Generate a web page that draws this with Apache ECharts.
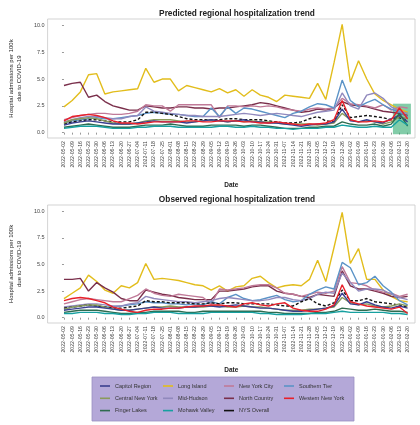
<!DOCTYPE html>
<html><head><meta charset="utf-8">
<script src="https://cdn.jsdelivr.net/npm/echarts@6/dist/echarts.min.js"></script>
<style>html,body{margin:0;padding:0;background:#fff}#c{width:420px;height:425px}</style>
</head><body><div id="c"></div>
<script>
const dates = ['2022-05-02','2022-05-09','2022-05-16','2022-05-23','2022-05-30','2022-06-06','2022-06-13','2022-06-20','2022-06-27','2022-07-04','2022-07-11','2022-07-18','2022-07-25','2022-08-01','2022-08-08','2022-08-15','2022-08-22','2022-08-29','2022-09-05','2022-09-12','2022-09-19','2022-09-26','2022-10-03','2022-10-10','2022-10-17','2022-10-24','2022-10-31','2022-11-07','2022-11-14','2022-11-21','2022-11-28','2022-12-05','2022-12-12','2022-12-19','2022-12-26','2023-01-02','2023-01-09','2023-01-16','2023-01-23','2023-01-30','2023-02-06','2023-02-13','2023-02-20'];
const yTicks = [0, 2.5, 5, 7.5, 10];
const regions = ['Capitol Region','Central New York','Finger Lakes','Long Island','Mid-Hudson','Mohawk Valley','New York City','North Country','NYS Overall','Southern Tier','Western New York'];

// Predicted series
const predCapitol  = [0.7,0.9,1.0,1.1,1.0,0.9,0.8,0.8,0.8,0.9,1.0,1.1,1.0,1.0,1.0,0.9,1.0,1.1,1.2,1.1,1.0,1.1,1.2,1.0,1.0,0.9,0.9,0.8,0.7,0.6,0.7,0.8,0.8,1.0,2.2,1.1,1.0,1.2,1.0,0.9,1.3,1.6,1.0];
const predCentral  = [0.9,1.2,1.3,1.4,1.3,1.1,0.9,0.8,0.8,0.9,1.1,1.2,1.2,1.2,1.1,1.0,1.0,1.1,1.2,1.1,1.0,1.1,1.0,1.1,1.0,1.0,0.9,0.8,0.8,0.8,0.8,0.7,0.8,0.9,1.8,1.2,1.0,1.1,1.0,0.8,1.0,1.5,1.3];
const predFinger   = [0.5,0.6,0.7,0.8,0.7,0.6,0.5,0.5,0.5,0.6,0.7,0.7,0.7,0.8,0.7,0.6,0.6,0.6,0.7,0.7,0.7,0.7,0.6,0.7,0.7,0.6,0.5,0.4,0.4,0.4,0.5,0.5,0.6,0.6,1.0,0.8,0.7,0.7,0.8,0.6,0.8,1.8,0.6];
const predLongIsl  = [2.4,3.0,3.8,5.4,5.5,3.6,3.8,3.9,4.0,4.1,6.0,4.7,5.0,5.0,3.9,4.4,4.2,4.0,3.8,4.1,3.7,4.0,3.4,4.0,3.5,3.3,2.9,3.5,3.4,3.3,3.2,4.6,3.1,6.5,10.1,4.7,6.7,5.0,3.6,3.0,2.6,2.2,1.9];
const predMidHud   = [1.0,1.2,1.4,1.5,1.5,1.4,1.3,1.3,1.5,1.6,2.4,2.0,1.9,1.8,1.7,1.6,1.6,1.5,1.5,1.5,1.6,1.7,1.8,1.7,1.6,1.7,1.8,1.7,1.6,1.5,1.7,1.9,2.0,2.1,3.7,2.5,2.2,3.5,3.7,3.2,2.4,2.0,1.8];
const predMohawk   = [0.4,0.5,0.6,0.6,0.6,0.5,0.4,0.4,0.4,0.5,0.5,0.6,0.6,0.6,0.5,0.5,0.5,0.5,0.5,0.6,0.6,0.5,0.5,0.6,0.5,0.5,0.4,0.4,0.3,0.4,0.4,0.4,0.5,0.5,0.7,0.6,0.5,0.5,0.6,0.5,0.5,1.2,0.7];
const predNYC      = [1.2,1.4,1.6,1.7,1.8,1.8,1.7,1.7,1.8,2.0,2.6,2.5,2.5,2.0,2.6,2.6,2.6,2.6,2.6,1.4,2.5,2.5,2.4,2.5,2.4,2.5,2.4,2.2,2.1,2.0,2.2,2.3,2.2,2.3,3.2,2.7,2.6,2.5,2.3,2.6,2.1,2.4,2.3];
const predNorth    = [4.4,4.6,4.7,3.3,3.5,2.9,2.5,2.3,2.1,2.1,2.5,2.4,2.3,2.3,2.4,2.4,2.3,2.3,2.2,2.3,2.3,2.4,2.5,2.6,2.8,2.7,2.5,2.3,2.1,1.9,2.0,2.2,2.1,2.3,2.9,2.6,2.5,2.4,2.2,2.0,1.9,1.8,1.6];
const predNYS      = [0.8,1.0,1.1,1.2,1.2,1.1,1.0,1.0,1.0,1.2,1.9,1.9,1.8,1.7,1.5,1.3,1.2,1.2,1.2,1.2,1.3,1.3,1.2,1.2,1.2,1.1,1.0,0.9,0.9,1.0,1.3,1.5,1.1,1.0,2.6,1.4,1.5,1.6,1.5,1.4,1.2,1.4,1.1];
const predSouthern = [0.9,1.1,1.2,1.3,1.4,1.3,1.3,1.4,1.5,1.6,1.8,1.9,1.8,1.7,1.7,1.6,1.5,1.5,2.3,1.5,2.4,1.8,2.3,2.2,2.0,1.8,1.6,1.4,1.8,2.0,2.4,2.7,2.6,2.3,4.9,3.0,2.4,2.8,3.1,2.6,2.2,1.9,1.5];
const predWestern  = [1.1,1.5,1.6,1.7,1.6,1.4,1.1,0.9,0.9,0.8,0.9,1.0,1.0,1.0,1.0,1.1,1.1,1.0,1.0,1.1,1.1,1.1,1.0,1.0,0.9,0.9,1.0,0.9,0.8,0.7,0.8,0.8,0.9,1.2,3.0,1.2,1.0,1.0,1.1,1.0,1.2,2.3,1.3];

// Observed series
const obsCapitol  = [0.7,0.8,0.9,1.0,1.0,0.9,0.8,0.7,0.7,0.8,0.9,1.0,0.9,0.9,0.9,1.0,1.0,1.1,1.1,1.0,1.1,1.2,1.1,1.0,0.9,0.9,0.8,0.7,0.6,0.6,0.7,0.8,0.9,1.1,2.3,1.3,1.2,1.5,1.2,1.0,0.9,1.1,0.9];
const obsCentral  = [0.8,1.0,1.1,1.2,1.2,1.0,0.8,0.7,0.7,0.8,0.9,1.0,1.0,1.1,1.0,1.0,1.0,1.0,1.1,1.1,1.0,1.0,1.1,1.0,1.0,0.9,0.8,0.7,0.7,0.7,0.8,0.8,0.9,1.0,1.9,1.4,1.2,1.3,1.1,1.0,1.1,1.3,1.1];
const obsFinger   = [0.5,0.6,0.7,0.7,0.7,0.6,0.5,0.4,0.4,0.5,0.5,0.6,0.6,0.6,0.6,0.5,0.5,0.6,0.6,0.6,0.6,0.6,0.6,0.6,0.6,0.5,0.5,0.4,0.4,0.4,0.4,0.5,0.5,0.6,0.9,0.8,0.7,0.7,0.8,0.7,0.6,0.6,0.5];
const obsLongIsl  = [1.8,2.3,2.8,4.0,3.4,2.6,2.3,3.0,2.8,3.3,5.1,3.6,3.7,3.6,3.5,3.3,3.1,3.0,2.6,3.0,2.5,2.9,3.0,3.7,3.9,3.3,2.8,3.0,3.1,3.0,3.6,5.4,3.4,6.6,9.9,5.1,6.5,3.6,3.6,2.6,2.0,1.6,1.5];
const obsMidHud   = [1.0,1.1,1.2,1.3,1.3,1.2,1.1,1.1,1.3,1.4,2.0,1.8,1.7,1.6,1.5,1.5,1.4,1.5,1.6,1.8,1.9,1.8,1.7,1.6,1.6,1.7,1.9,1.9,1.7,1.6,1.8,2.2,2.4,2.3,4.2,3.3,2.5,2.7,2.7,2.6,2.2,1.9,1.7];
const obsMohawk   = [0.4,0.4,0.5,0.5,0.5,0.4,0.4,0.3,0.3,0.4,0.4,0.5,0.5,0.5,0.4,0.4,0.4,0.4,0.5,0.5,0.5,0.5,0.5,0.5,0.4,0.4,0.3,0.3,0.3,0.3,0.4,0.4,0.4,0.5,0.6,0.5,0.5,0.5,0.5,0.5,0.4,0.4,0.3];
const obsNYC      = [1.3,1.5,1.7,1.8,1.7,1.6,1.5,1.5,1.8,2.1,2.7,2.3,2.1,2.0,2.2,2.1,2.0,1.9,1.3,2.7,2.6,2.7,2.8,3.0,3.1,3.1,2.8,2.3,2.2,2.0,2.2,2.4,2.3,2.5,4.8,3.3,3.2,3.0,2.6,2.4,2.3,2.0,2.2];
const obsNorth    = [3.6,3.6,3.7,2.5,3.3,2.8,2.4,1.8,1.6,1.6,2.6,2.4,2.2,2.1,1.9,1.8,1.7,1.7,1.7,2.5,2.5,2.6,2.7,2.9,3.0,3.0,2.5,2.3,2.2,2.0,1.9,2.2,2.1,2.0,4.4,3.0,2.7,2.7,2.5,2.3,2.0,1.9,2.0];
const obsNYS      = [0.9,1.0,1.1,1.2,1.1,1.0,0.9,0.9,1.0,1.1,1.6,1.5,1.5,1.4,1.4,1.4,1.3,1.3,1.4,1.3,1.4,1.4,1.3,1.3,1.3,1.3,1.2,1.1,1.1,1.5,1.8,1.3,1.1,1.4,2.6,1.6,1.6,1.8,1.5,1.4,1.3,1.2,1.0];
const obsSouthern = [0.8,1.0,1.1,1.2,1.1,1.0,1.0,1.1,1.2,1.3,1.5,1.4,1.4,1.3,1.3,1.2,1.3,1.2,1.5,1.3,1.9,2.2,1.8,1.6,1.7,1.9,2.1,1.7,1.5,1.6,2.2,2.6,2.9,2.7,5.2,4.7,3.1,3.3,3.9,3.0,2.4,1.6,1.2];
const obsWestern  = [1.6,1.8,1.9,1.8,1.6,1.4,1.0,0.8,0.6,0.5,0.7,0.8,0.8,0.9,0.9,1.0,1.1,1.1,1.2,1.2,1.1,1.0,1.3,1.4,1.2,1.1,1.3,1.4,0.9,0.7,0.6,0.6,0.8,1.2,3.1,1.5,1.3,1.1,1.0,0.9,0.8,1.0,0.4];

const predicted = [predCapitol,predCentral,predFinger,predLongIsl,predMidHud,predMohawk,predNYC,predNorth,predNYS,predSouthern,predWestern];
const observed  = [obsCapitol,obsCentral,obsFinger,obsLongIsl,obsMidHud,obsMohawk,obsNYC,obsNorth,obsNYS,obsSouthern,obsWestern];
const colors = ['#3a3f8f','#8a9a5b','#2f6b4f','#e2bd1c','#9189bd','#16a0a0','#c07a98','#7a2f4b','#111111','#5b93c7','#e8202a'];
// draw order (back to front)
const order = [3,7,6,9,4,8,1,0,2,5,10];

const chart = echarts.init(document.getElementById('c'), null, {renderer:'canvas'});
const FONT = 'Liberation Sans, Arial, sans-serif';
const dateIdx = dates.map((d,i)=>i);

function xAx(gi){
  return {
    type:'value', gridIndex:gi, min:-2, max:42.9,
    name:'Date', nameLocation:'middle', nameGap:44,
    nameTextStyle:{fontSize:6.5, fontFamily:FONT, color:'#222', fontWeight:'bold'},
    axisLine:{show:false},
    splitLine:{show:false},
    axisTick:{show:true, customValues:dateIdx, length:2, lineStyle:{color:'#555', width:0.6}},
    axisLabel:{customValues:dateIdx, rotate:90, fontSize:5.2, fontFamily:FONT, color:'#444', margin:3,
      formatter:(v)=> dates[Math.round(v)] || ''}
  };
}
function yAx(gi){
  return {
    type:'value', gridIndex:gi, min:-0.5, max:10.6,
    name:'Hospital admissions per 100k\ndue to COVID-19', nameLocation:'middle', nameRotate:90, nameGap:20,
    nameTextStyle:{fontSize:6, fontFamily:FONT, color:'#222', lineHeight:7.5},
    axisLine:{show:false},
    splitLine:{show:false},
    axisTick:{show:true, customValues:yTicks, length:2, lineStyle:{color:'#555', width:0.6}},
    axisLabel:{customValues:yTicks, fontSize:5.5, fontFamily:FONT, color:'#444', margin:3,
      formatter:(v)=> v.toFixed(1)}
  };
}

const series = [];
[predicted, observed].forEach((set, gi)=>{
  order.forEach(k=>{
    series.push({
      name: regions[k], type:'line', xAxisIndex:gi, yAxisIndex:gi,
      data: set[k].map((v,i)=>[i,v]),
      symbol:'none', smooth:false,
      lineStyle:{color:colors[k], width: 1.4, type: k===8 ? [3,2] : 'solid'},
      itemStyle:{color:colors[k]},
      emphasis:{disabled:true}, silent:true, animation:false
    });
  });
});
// prediction window highlight on the predicted panel
series.push({
  type:'line', xAxisIndex:0, yAxisIndex:0, data:[], silent:true, animation:false,
  markArea:{silent:true, itemStyle:{color:'rgba(46,170,110,0.6)'},
    data:[[{coord:[40.2,-0.15]},{coord:[42.4,2.7]}]]}
});

const legendCols = [
  ['Capitol Region','Central New York','Finger Lakes'],
  ['Long Island','Mid-Hudson','Mohawk Valley'],
  ['New York City','North Country','NYS Overall'],
  ['Southern Tier','Western New York']
];
const legendLeft = [100, 163, 224, 284];
const legends = legendCols.map((col,i)=>({
  data: col.map(n=>({name:n, icon:'rect'})), orient:'vertical', left: legendLeft[i], top: 383, height: 40,
  itemWidth: 10, itemHeight: 1.6, itemGap: 6.3, padding: 0,
  textStyle:{fontSize:5.5, fontFamily:FONT, color:'#333'},
  selectedMode:false
}));

chart.setOption({
  backgroundColor:'#ffffff',
  animation:false,
  title:[
    {text:'Predicted regional hospitalization trend', left:232, top:5, textAlign:'center',
     textStyle:{fontSize:8.3, fontWeight:'bold', fontFamily:FONT, color:'#222'}},
    {text:'Observed regional hospitalization trend', left:232, top:191, textAlign:'center',
     textStyle:{fontSize:8.3, fontWeight:'bold', fontFamily:FONT, color:'#222'}}
  ],
  grid:[
    {left:47, top:19, width:368, height:119, show:true, borderColor:'#c8c8c8', borderWidth:0.8, backgroundColor:'#fff'},
    {left:47, top:205, width:368, height:118, show:true, borderColor:'#c8c8c8', borderWidth:0.8, backgroundColor:'#fff'}
  ],
  xAxis:[xAx(0), xAx(1)],
  yAxis:[yAx(0), yAx(1)],
  legend: legends,
  graphic:[{type:'rect', shape:{x:92, y:377, width:262, height:44}, z:-1,
    style:{fill:'#b4a8d8', stroke:'#9a90c2', lineWidth:0.8}}],
  series: series
});
</script></body></html>
